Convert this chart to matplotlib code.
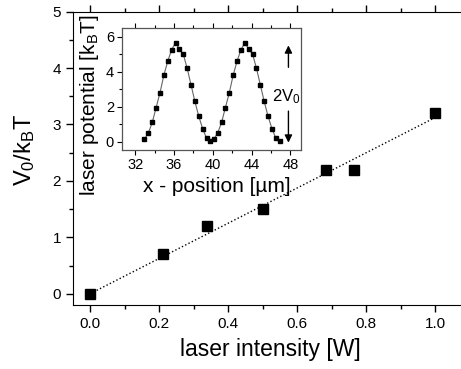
import matplotlib
matplotlib.use('Agg')
import matplotlib.pyplot as plt
import numpy as np

plt.rcParams['font.family'] = ['Liberation Sans', 'DejaVu Sans']
plt.rcParams['mathtext.fontset'] = 'custom'
plt.rcParams['mathtext.rm'] = 'Liberation Sans'
plt.rcParams['mathtext.it'] = 'Liberation Sans:italic'

# main data: potential depth vs laser intensity
intensity = [0.0, 0.21, 0.34, 0.50, 0.685, 0.765, 1.0]
depth = [0.0, 0.70, 1.20, 1.50, 2.20, 2.20, 3.20]

# inset data: laser potential vs position
pos = [32.95, 33.35, 33.75, 34.15, 34.55, 34.95, 35.35, 35.75, 36.15,
       36.55, 36.95, 37.35, 37.75, 38.15, 38.55, 38.95, 39.35, 39.75,
       40.10, 40.50, 40.90, 41.30, 41.70, 42.10, 42.50, 42.90, 43.30,
       43.70, 44.10, 44.50, 44.90, 45.30, 45.70, 46.10, 46.50, 46.90]
pot = [0.15, 0.50, 1.10, 1.95, 2.80, 3.80, 4.60, 5.25, 5.65,
       5.30, 5.00, 4.20, 3.25, 2.30, 1.45, 0.75, 0.20, 0.05,
       0.15, 0.50, 1.10, 1.95, 2.80, 3.80, 4.60, 5.25, 5.65,
       5.30, 5.00, 4.20, 3.25, 2.30, 1.45, 0.75, 0.20, 0.05]

fig = plt.figure(figsize=(4.61, 3.69), dpi=100)
ax = fig.add_axes([0.158, 0.1734, 0.8606, 0.795])

# linear fit through origin
x = np.array(intensity)
y = np.array(depth)
slope = np.sum(x * y) / np.sum(x * x)
xf = np.array([0.0, 1.0])
ax.plot(xf, slope * xf, ':', color='black', lw=1.0)
ax.plot(intensity, depth, 's', color='black', ms=6.5)

ax.set_xlim(-0.05, 1.1)
ax.set_ylim(-0.2, 5)
ax.set_xticks([0.0, 0.2, 0.4, 0.6, 0.8, 1.0])
ax.set_xticks(np.arange(-0.0, 1.1, 0.1), minor=True)
ax.set_yticks([0, 1, 2, 3, 4, 5])
ax.set_yticks(np.arange(0.5, 5, 1.0), minor=True)
ax.spines['right'].set_visible(False)
ax.tick_params(which='both', direction='out', top=True, labelsize=11, width=1)
ax.tick_params(which='major', length=5)
ax.tick_params(which='minor', length=3)
ax.set_xlabel('laser intensity [W]', fontsize=16.5)
ax.xaxis.set_label_coords(0.499, -0.153)
ax.xaxis.label.set_verticalalignment('center')
ax.set_ylabel(r'$\mathregular{V_0/k_BT}$', fontsize=17)
ax.yaxis.set_label_coords(-0.121, 0.528)
ax.yaxis.label.set_verticalalignment('center')

# inset
ins = fig.add_axes([0.264, 0.5935, 0.389, 0.33])
ins.plot(pos, pot, '-', color='#666666', lw=0.8)
ins.plot(pos, pot, 's', color='black', ms=3)
ins.set_xlim(30.6, 49.1)
ins.set_ylim(-0.47, 6.48)
ins.set_xticks([32, 36, 40, 44, 48])
ins.set_xticks([34, 38, 42, 46], minor=True)
ins.set_yticks([0, 2, 4, 6])
ins.set_yticks([1, 3, 5], minor=True)
ins.tick_params(which='both', direction='out', top=True, labelsize=10.5, width=0.8,
                pad=2)
ins.tick_params(which='major', length=3.5)
ins.tick_params(which='minor', length=2)
for s in ins.spines.values():
    s.set_color('#555555')
    s.set_linewidth(0.9)
ins.set_xlabel(u'x - position [\u00b5m]', fontsize=15)
ins.xaxis.set_label_coords(0.53, -0.30)
ins.xaxis.label.set_verticalalignment('center')
ins.set_ylabel(r'laser potential [k$_\mathregular{B}$T]', fontsize=15)
ins.yaxis.set_label_coords(-0.18, 0.37)
ins.yaxis.label.set_verticalalignment('center')

arrow = dict(arrowstyle='-|>', color='black', lw=1.0, mutation_scale=11,
             shrinkA=0, shrinkB=0)
ins.annotate('', xy=(47.8, 5.5), xytext=(47.8, 4.25), arrowprops=arrow)
ins.annotate('', xy=(47.8, -0.05), xytext=(47.8, 1.75), arrowprops=arrow)
ins.text(47.6, 2.57, r'2V$_\mathregular{0}$', fontsize=12, ha='center', va='center')

fig.savefig('out.png', dpi=100)
